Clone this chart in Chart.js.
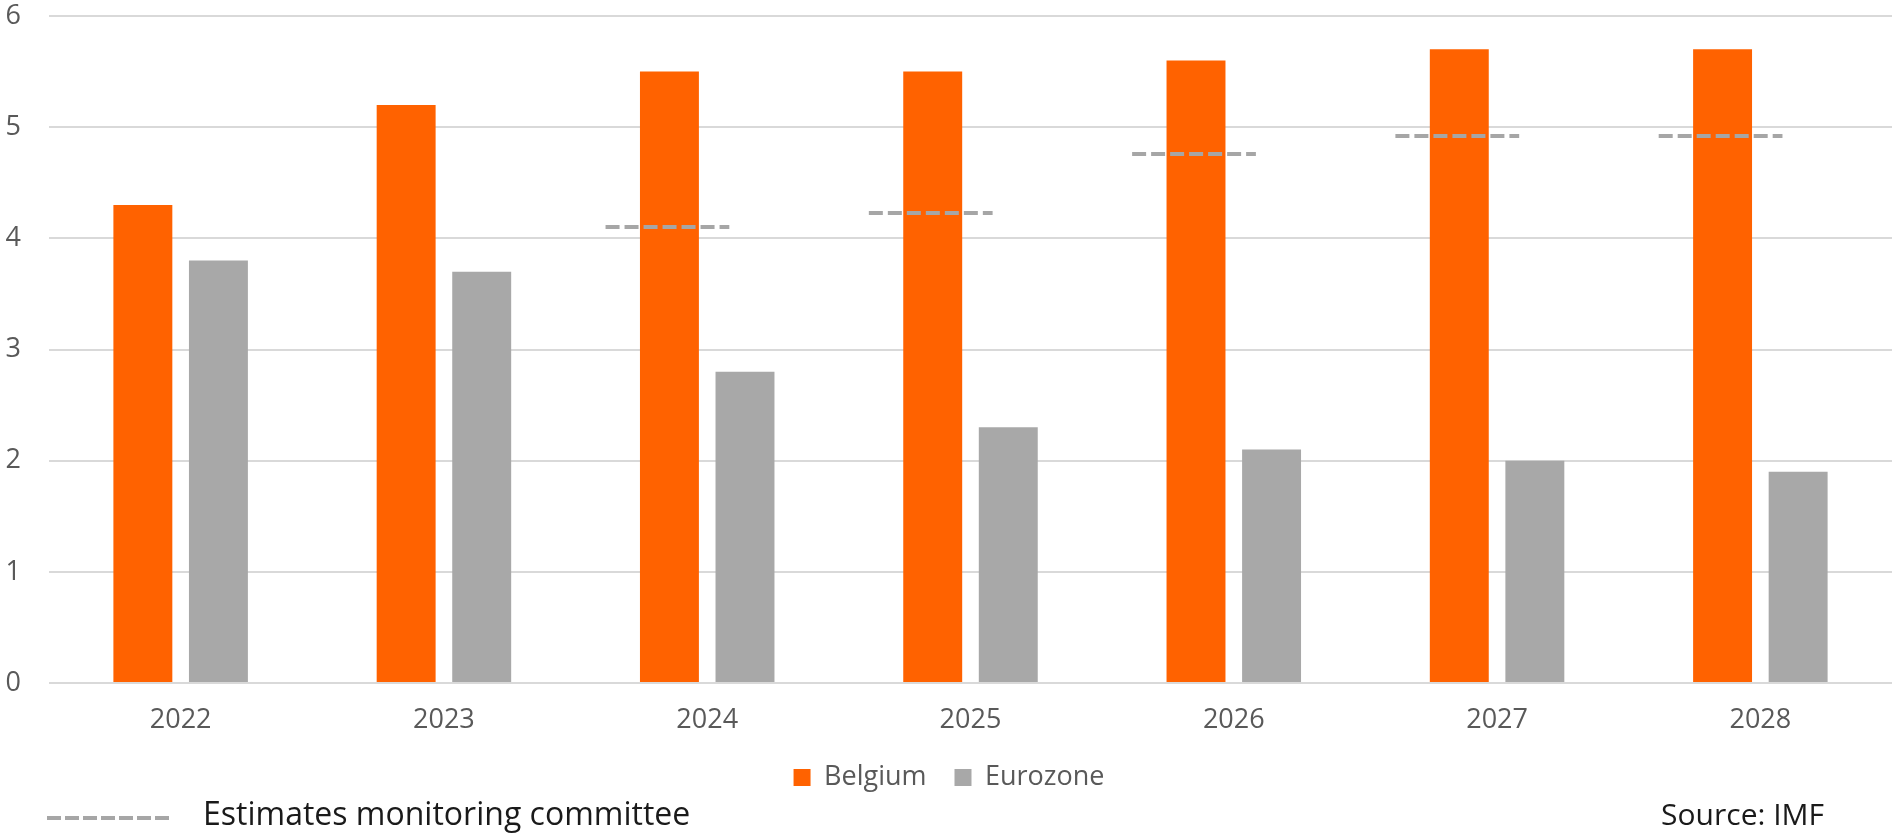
<!DOCTYPE html>
<html>
<head>
<meta charset="utf-8">
<script src="https://cdn.jsdelivr.net/npm/chart.js@4"></script>
<style>
    html, body { margin: 0; padding: 0; background: #fff; }
    #wrap { position: relative; width: 1895px; height: 837px; }
    #footer { position: absolute; left: 0; top: 797px; width: 1895px; height: 40px;
              font-family: "Open Sans", sans-serif; color: #1a1a1a; }
    #footer svg { position: absolute; left: 47px; top: 18px; }
    #footer .est { position: absolute; left: 203px; top: -6px; font-size: 32px; }
    #footer .src { position: absolute; right: 71px; top: -4px; font-size: 30px; }
</style>
</head>
<body>
<div id="wrap">
    <canvas id="chart" width="1895" height="837"></canvas>
    <div id="footer">
        <svg width="130" height="6"><line x1="0" y1="3" x2="126" y2="3" stroke="#a6a6a6" stroke-width="4" stroke-dasharray="14 4"/></svg>
        <span class="est">Estimates monitoring committee</span>
        <span class="src">Source: IMF</span>
    </div>
</div>
<script>
// chart data
var years = ["2022", "2023", "2024", "2025", "2026", "2027", "2028"];
var belgium = [4.3, 5.2, 5.5, 5.5, 5.6, 5.7, 5.7];
var eurozone = [3.8, 3.7, 2.8, 2.3, 2.1, 2.0, 1.9];
var estimates = [null, null, 4.1, 4.23, 4.76, 4.92, 4.92];

var font = { family: "'Open Sans', sans-serif", size: 27 };

// dashed estimate marks, drawn over the Belgium bar of each year
var estimatePlugin = {
    id: "estimates",
    afterDatasetsDraw: function (chart) {
        var ctx = chart.ctx;
        var yScale = chart.scales.y;
        var bars = chart.getDatasetMeta(0).data;
        ctx.save();
        ctx.strokeStyle = "#a6a6a6";
        ctx.lineWidth = 4;
        ctx.setLineDash([14, 5]);
        estimates.forEach(function (v, i) {
            if (v === null || !bars[i]) return;
            var bar = bars[i];
            var half = bar.width * 1.05;
            var cx = bar.x - 2;
            var y = Math.round(yScale.getPixelForValue(v));
            ctx.beginPath();
            ctx.moveTo(cx - half, y);
            ctx.lineTo(cx + half, y);
            ctx.stroke();
        });
        ctx.restore();
    }
};

new Chart(document.getElementById("chart").getContext("2d"), {
    type: "bar",
    data: {
        labels: years,
        datasets: [
            {
                label: "Belgium",
                data: belgium,
                backgroundColor: "#ff6200",
                categoryPercentage: 0.574,
                barPercentage: 0.78
            },
            {
                label: "Eurozone",
                data: eurozone,
                backgroundColor: "#a8a8a8",
                categoryPercentage: 0.574,
                barPercentage: 0.78
            }
        ]
    },
    plugins: [estimatePlugin],
    options: {
        responsive: false,
        animation: false,
        layout: { padding: { left: 6, right: 3, top: 0, bottom: 36 } },
        plugins: {
            legend: {
                position: "bottom",
                labels: {
                    boxWidth: 17,
                    boxHeight: 17,
                    padding: 28,
                    color: "#595959",
                    font: font
                }
            },
            tooltip: { enabled: false }
        },
        scales: {
            x: {
                grid: { display: false, drawTicks: false },
                border: { display: false },
                ticks: { color: "#595959", font: font, padding: 21 },
                afterFit: function (scale) {
                    scale.height = 53;
                }
            },
            y: {
                min: 0,
                max: 6,
                grid: { color: "#d9d9d9", lineWidth: 2, drawTicks: false },
                border: { display: false },
                ticks: { stepSize: 1, color: "#595959", font: font, padding: 28 },
                afterFit: function (scale) {
                    scale.width = 43;
                    scale.paddingTop = 16;
                    scale.paddingBottom = 16;
                }
            }
        }
    }
});
</script>
</body>
</html>
